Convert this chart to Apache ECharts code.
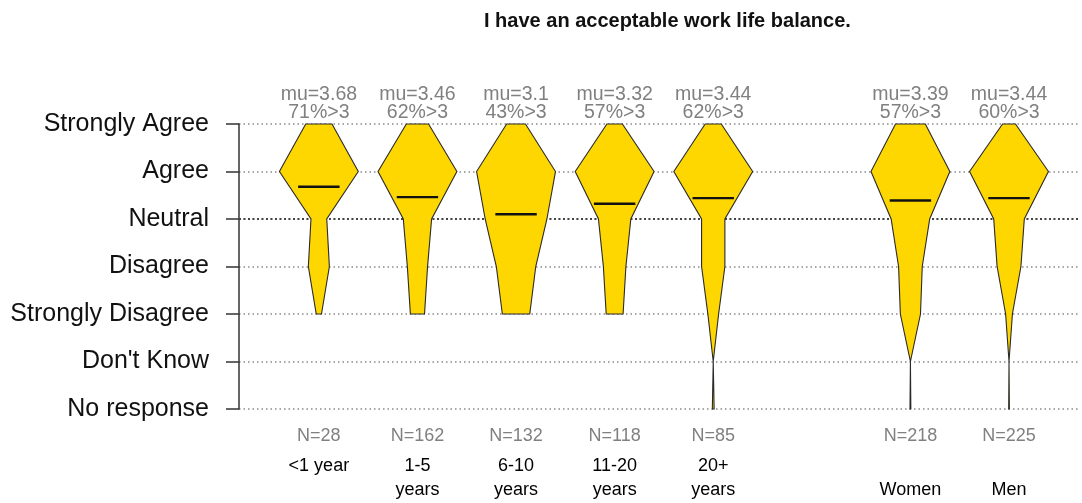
<!DOCTYPE html>
<html>
<head>
<meta charset="utf-8">
<script src="https://cdn.jsdelivr.net/npm/echarts@6/dist/echarts.min.js"></script>
<style>
  html, body { margin: 0; padding: 0; background: #fff; }
  #chart { width: 1082px; height: 503px; }
</style>
</head>
<body>
<div id="chart"></div>
<script>
// answer levels, from -1 (No response) up to 5 (Strongly Agree)
const levelNames = ['No response', "Don't Know", 'Strongly Disagree', 'Disagree', 'Neutral', 'Agree', 'Strongly Agree'];
const levelValues = [-1, 0, 1, 2, 3, 4, 5];

const groups = ['<1 year', '1-5\nyears', '6-10\nyears', '11-20\nyears', '20+\nyears', '\nWomen', '\nMen'];
const groupPos = [1, 2, 3, 4, 5, 7, 8];

// counts per group, ordered SA, A, N, D, SD, DK, NR
const countsLt1 = [5, 15, 3, 4, 1, 0, 0];
const counts1to5 = [22, 78, 28, 20, 14, 0, 0];
const counts6to10 = [11, 46, 36, 23, 16, 0, 0];
const counts11to20 = [11, 56, 23, 16, 12, 0, 0];
const counts20plus = [9, 44, 13, 13, 6, 0, 1];
const countsWomen = [34, 90, 44, 27, 23, 0, 1];
const countsMen = [19, 116, 45, 35, 10, 0, 1];
const allCounts = [countsLt1, counts1to5, counts6to10, counts11to20, counts20plus, countsWomen, countsMen];

const means = [3.68, 3.46, 3.1, 3.32, 3.44, 3.39, 3.44];
const pctAgree = [71, 62, 43, 57, 62, 57, 60];
const nResp = [28, 162, 132, 118, 85, 218, 225];

const countLevels = [5, 4, 3, 2, 1, 0, -1];
const xMin = 0.19, xMax = 8.72;
const font = "'Liberation Sans', Arial, sans-serif";

let chart = echarts.init(document.getElementById('chart'));

function renderViolin(params, api) {
    let i = params.dataIndex;
    let x = api.value(0);
    let counts = allCounts[i];
    let maxC = Math.max.apply(null, counts);
    let idx = [];
    for (let k = 0; k < counts.length; k++) {
        if (counts[k] > 0) idx.push(k);
    }
    let first = idx[0], last = idx[idx.length - 1];
    let right = [], left = [];
    for (let k = first; k <= last; k++) {
        let hw = counts[k] / maxC * 0.4;
        right.push(api.coord([x + hw, countLevels[k]]));
        left.unshift(api.coord([x - hw, countLevels[k]]));
    }
    let pts = right.concat(left);
    let m1 = api.coord([x - 0.21, means[i]]);
    let m2 = api.coord([x + 0.21, means[i]]);
    let top = api.coord([x, 5]);
    let bot = api.coord([x, -1]);
    return {
        type: 'group',
        children: [
            {
                type: 'polygon',
                shape: { points: pts },
                style: { fill: '#FFD700', stroke: '#2a2a2a', lineWidth: 1.1 }
            },
            {
                type: 'line',
                shape: { x1: m1[0], y1: m1[1], x2: m2[0], y2: m2[1] },
                style: { stroke: '#111', lineWidth: 2.4 }
            },
            {
                type: 'text',
                x: top[0], y: top[1] - 20,
                style: {
                    text: 'mu=' + means[i] + '\n' + pctAgree[i] + '%>3',
                    fill: '#808080', fontSize: 19.5, lineHeight: 18, fontFamily: font,
                    align: 'center', verticalAlign: 'middle'
                }
            },
            {
                type: 'text',
                x: bot[0], y: bot[1] + 27,
                style: {
                    text: 'N=' + nResp[i],
                    fill: '#808080', fontSize: 18, fontFamily: font,
                    align: 'center', verticalAlign: 'middle'
                }
            },
            {
                type: 'text',
                x: bot[0], y: bot[1] + 45,
                style: {
                    text: groups[i],
                    fill: '#000', fontSize: 18, lineHeight: 24, fontFamily: font,
                    align: 'center', verticalAlign: 'top'
                }
            }
        ]
    };
}

chart.setOption({
    animation: false,
    textStyle: { fontFamily: font },
    title: {
        text: 'I have an acceptable work life balance.',
        left: 479,
        top: 6,
        textStyle: { fontSize: 20, fontWeight: 'bold', color: '#111', fontFamily: font }
    },
    grid: { left: 239, right: 2, top: 124, bottom: 94 },
    xAxis: {
        type: 'value',
        min: xMin,
        max: xMax,
        show: false
    },
    yAxis: {
        type: 'value',
        min: -1,
        max: 5,
        interval: 1,
        axisLine: { show: true, lineStyle: { color: '#333', width: 1.5 } },
        axisTick: { show: true, length: 13, lineStyle: { color: '#333', width: 1.5 } },
        axisLabel: {
            margin: 30,
            fontSize: 25,
            color: '#111',
            fontFamily: font,
            formatter: function (v) {
                return levelNames[levelValues.indexOf(v)];
            }
        },
        splitLine: { show: true, lineStyle: { color: '#8a8a8a', type: [1.5, 3], width: 1.5 } }
    },
    series: [
        {
            // darker neutral reference line
            type: 'line',
            data: [[xMin, 3], [xMax, 3]],
            symbol: 'none',
            silent: true,
            lineStyle: { color: '#444', type: [2, 2.5], width: 2 },
            z: 1
        },
        {
            type: 'custom',
            renderItem: renderViolin,
            data: groupPos.map(function (p, i) { return [p, i]; }),
            z: 5
        }
    ]
});

window.addEventListener('resize', function () {
    chart.resize();
});
</script>
</body>
</html>
